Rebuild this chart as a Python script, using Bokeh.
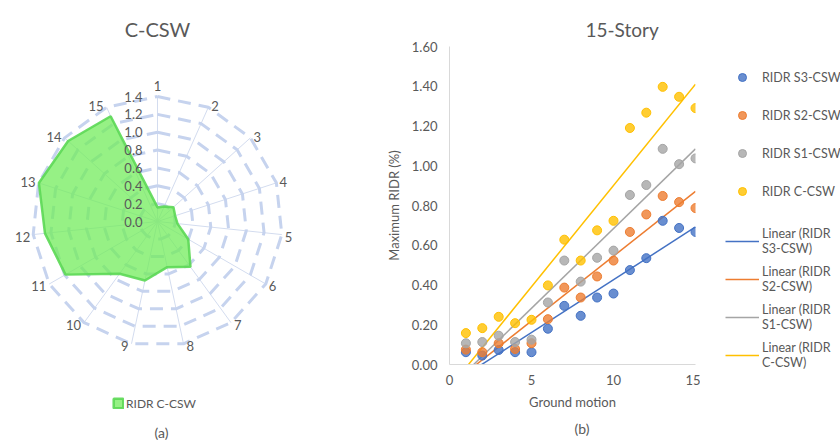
import numpy as np
from bokeh.plotting import figure
from bokeh.models import Range1d, Legend, LegendItem, Title, Label, FixedTicker, NumeralTickFormatter
from bokeh.layouts import row
from bokeh.embed import file_html
from bokeh.resources import INLINE
from bokeh.core.properties import value

# ---------------- data ----------------
ground_motion = list(range(1, 16))
ridr_s3 = [0.062, 0.045, 0.073, 0.062, 0.062, 0.180, 0.295, 0.245, 0.337, 0.357,
           0.475, 0.535, 0.723, 0.687, 0.667]
ridr_s2 = [0.075, 0.062, 0.107, 0.078, 0.107, 0.228, 0.387, 0.337, 0.443, 0.523,
           0.667, 0.755, 0.848, 0.817, 0.787]
ridr_s1 = [0.107, 0.113, 0.145, 0.113, 0.125, 0.312, 0.523, 0.417, 0.537, 0.573,
           0.853, 0.903, 1.085, 1.008, 1.037]
ridr_c = [0.158, 0.183, 0.240, 0.208, 0.225, 0.398, 0.628, 0.523, 0.675, 0.723,
          1.190, 1.267, 1.397, 1.347, 1.290]

series_names = ["RIDR S3-CSW", "RIDR S2-CSW", "RIDR S1-CSW", "RIDR C-CSW"]
trend_names = ["Linear (RIDR\nS3-CSW)", "Linear (RIDR\nS2-CSW)",
               "Linear (RIDR\nS1-CSW)", "Linear (RIDR\nC-CSW)"]
series_colors = ["#4472C4", "#ED7D31", "#A5A5A5", "#FFC000"]

radar_categories = [str(i) for i in range(1, 16)]
radar_ticks = [0.0, 0.2, 0.4, 0.6, 0.8, 1.0, 1.2, 1.4]
y_ticks = [0.0, 0.2, 0.4, 0.6, 0.8, 1.0, 1.2, 1.4, 1.6]
x_ticks = [0, 5, 10, 15]

FONT = "Lato"
TXT = "#595959"

TOTAL_W, TOTAL_H = 840, 441
FRAME_TOP, FRAME_BOTTOM = 46, 366
FRAME_LEFT, FRAME_RIGHT = 449, 695
W1 = 368
W2 = FRAME_RIGHT + 5 - W1
W3 = TOTAL_W - W1 - W2

# ---------------- left: radar ----------------
S = 125 / 1.4          # px per unit
CX, CY = 157, 221      # page position of the radar centre
left = figure(width=W1, height=TOTAL_H, output_backend="svg", toolbar_location=None,
              x_range=Range1d((0 - CX) / S, (W1 - CX) / S),
              y_range=Range1d((CY - TOTAL_H) / S, CY / S),
              x_axis_location=None, y_axis_location=None,
              min_border=0, outline_line_color=None, frame_align=False)
left.grid.visible = False

n = len(radar_categories)
theta = np.arange(n) * 2 * np.pi / n
sin_t, cos_t = np.sin(theta), np.cos(theta)
rmax = radar_ticks[-1]

left.segment(x0=[0] * n, y0=[0] * n, x1=list(rmax * sin_t), y1=list(rmax * cos_t),
             line_color="#d3dcef", line_width=1)
ring_xs = [list(np.append(t * sin_t, t * sin_t[0])) for t in radar_ticks[1:]]
ring_ys = [list(np.append(t * cos_t, t * cos_t[0])) for t in radar_ticks[1:]]
left.multi_line(ring_xs, ring_ys, line_color="#c6d3ee", line_width=3, line_dash="13 8")

vals = np.array(ridr_c)
radar = left.patch(list(vals * sin_t), list(vals * cos_t), fill_color="#72ec5a",
                   fill_alpha=0.74, line_color="#5cd855", line_width=2.5, line_alpha=0.9)

left.text(x=[-15 / S] * len(radar_ticks), y=radar_ticks,
          text=["%.1f" % t for t in radar_ticks], text_align="right",
          text_baseline="middle", text_font=value(FONT), text_font_size="13px",
          text_color=TXT)

for k in range(n):
    s, c = sin_t[k], cos_t[k]
    ex, ey = rmax * s, rmax * c
    if abs(s) < 1e-6:
        lx, ly, la, lb = ex, ey + 6 / S, "center", "bottom"
    else:
        sign = 1 if s > 0 else -1
        lx = ex + sign * 3 / S
        ly = ey - (2 / S if c < 0 else -1 / S)
        la, lb = ("left" if s > 0 else "right"), "middle"
    left.text(x=[lx], y=[ly], text=[radar_categories[k]], text_align=la,
              text_baseline=lb, text_font=value(FONT), text_font_size="13px",
              text_color=TXT)

left.add_layout(Label(x=0, y=(CY - 28) / S, text="C-CSW", text_align="center",
                      text_baseline="middle", text_font=FONT, text_font_size="20px",
                      text_color=TXT))
left.add_layout(Label(x=(161 - CX) / S, y=(CY - 432) / S, text="(a)", text_align="center",
                      text_baseline="middle", text_font=FONT, text_font_size="14px",
                      text_color=TXT))
leg_a = Legend(items=[LegendItem(label="RIDR C-CSW", renderers=[radar])],
               location=(112, TOTAL_H - 411), padding=0, margin=0, border_line_color=None,
               background_fill_alpha=0, glyph_width=12, glyph_height=12,
               label_height=16, label_standoff=2, label_text_font=FONT,
               label_text_font_size="12px", label_text_color=TXT)
left.add_layout(leg_a)

# ---------------- middle: scatter chart ----------------
right = figure(width=W2, height=TOTAL_H, output_backend="svg", toolbar_location=None,
               x_range=Range1d(0, 15), y_range=Range1d(0, 1.6),
               min_border_left=FRAME_LEFT - W1, min_border_right=W1 + W2 - FRAME_RIGHT,
               min_border_top=FRAME_TOP, min_border_bottom=TOTAL_H - FRAME_BOTTOM,
               outline_line_color=None, frame_align=False)
right.grid.visible = False
right.xaxis.ticker = FixedTicker(ticks=x_ticks)
right.yaxis.ticker = FixedTicker(ticks=y_ticks)
right.yaxis.formatter = NumeralTickFormatter(format="0.00")
for ax in (right.xaxis[0], right.yaxis[0]):
    ax.axis_line_color = "#d9d9d9"
    ax.major_tick_out = 0
    ax.major_tick_in = 0
    ax.minor_tick_out = 0
    ax.minor_tick_in = 0
    ax.major_label_text_font = FONT
    ax.major_label_text_font_size = "13px"
    ax.major_label_text_color = TXT
    ax.axis_label_text_font = FONT
    ax.axis_label_text_font_size = "13px"
    ax.axis_label_text_color = TXT
    ax.axis_label_text_font_style = "normal"
right.xaxis.axis_label = "Ground motion"
right.yaxis.axis_label = "Maximum RIDR (%)"
right.xaxis.major_label_standoff = 10
right.yaxis.major_label_standoff = 12
right.xaxis.axis_label_standoff = 6
right.yaxis.axis_label_standoff = 7

all_series = [ridr_s3, ridr_s2, ridr_s1, ridr_c]
trend_x = [ground_motion[0], ground_motion[-1]]
for col, ser in zip(series_colors, all_series):
    coef = np.polyfit(ground_motion, ser, 1)
    right.line(trend_x, list(np.polyval(coef, trend_x)), line_color=col, line_width=1.5)
for col, ser in zip(series_colors, all_series):
    right.scatter(ground_motion, ser, size=9, fill_color=col, fill_alpha=0.8,
                  line_color=col, line_width=1)

right.add_layout(Title(text="15-Story", align="left", offset=136, standoff=12,
                       text_font=FONT, text_font_size="19px", text_font_style="normal",
                       text_color=TXT), "above")
right.add_layout(Title(text="(b)", align="left", offset=125, standoff=10,
                       text_font=FONT, text_font_size="14px", text_font_style="normal",
                       text_color=TXT), "below")

# ---------------- right: legend panel ----------------
# legend proxies use the real series, but this panel's ranges keep them off-screen
X0 = W1 + W2
leg_fig = figure(width=W3, height=TOTAL_H, output_backend="svg", toolbar_location=None,
                 x_range=Range1d(100, 101), y_range=Range1d(100, 101),
                 x_axis_location=None, y_axis_location=None,
                 min_border=0, outline_line_color=None, frame_align=False)
leg_fig.grid.visible = False
scatter_items, trend_items = [], []
for name, tname, col, ser in zip(series_names, trend_names, series_colors, all_series):
    sc = leg_fig.scatter(ground_motion, ser, size=9, fill_color=col, fill_alpha=0.8,
                         line_color=col, line_width=1)
    scatter_items.append(LegendItem(label=name, renderers=[sc]))
    ln = leg_fig.line(ground_motion, ser, line_color=col, line_width=1.5)
    trend_items.append(LegendItem(label=tname, renderers=[ln]))

common = dict(padding=0, margin=0, border_line_color=None, background_fill_alpha=0,
              glyph_width=34, label_standoff=3, label_text_font=FONT,
              label_text_font_size="12.5px", label_text_color=TXT)
leg1 = Legend(items=scatter_items, location=(725 - X0, TOTAL_H - 201), glyph_height=20,
              label_height=20, spacing=18, **common)
leg2 = Legend(items=trend_items, location=(725 - X0, TOTAL_H - 373), glyph_height=18,
              label_height=36, spacing=2, label_text_line_height=1.4, **common)
leg_fig.add_layout(leg1)
leg_fig.add_layout(leg2)

p = row(left, right, leg_fig)
open("out.html", "w").write(file_html(p, INLINE))
